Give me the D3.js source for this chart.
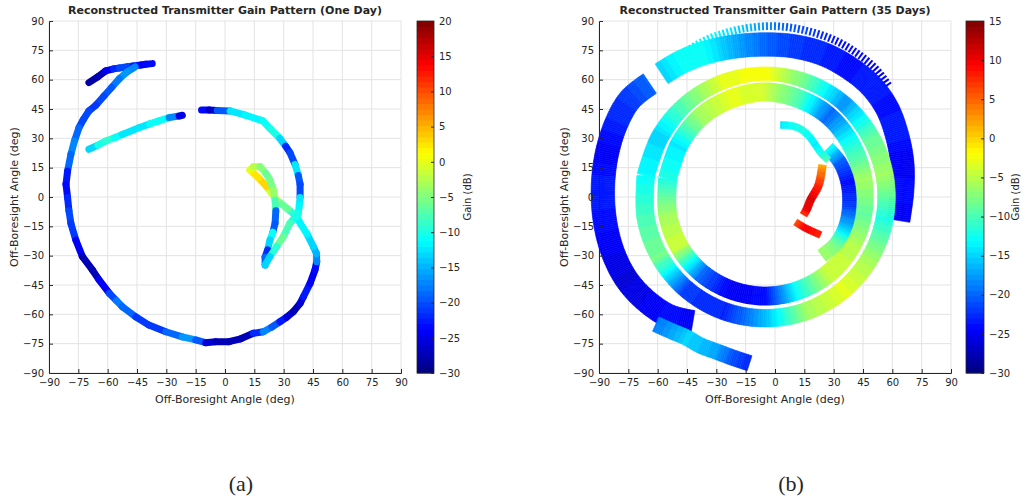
<!DOCTYPE html>
<html>
<head>
<meta charset="utf-8">
<script src="https://cdn.jsdelivr.net/npm/d3@7"></script>
<style>
  body { margin: 0; background: #fff; }
  svg { display: block; }
  text { font-family: "DejaVu Sans", sans-serif; fill: #262626; }
</style>
</head>
<body>
<svg id="chart" width="1027" height="502"></svg>
<script>
// ---- data ----
const angleTicks = [-90, -75, -60, -45, -30, -15, 0, 15, 30, 45, 60, 75, 90];
const titles = ['Reconstructed Transmitter Gain Pattern (One Day)', 'Reconstructed Transmitter Gain Pattern (35 Days)'];
const gainRanges = [[-30, 20], [-30, 15]];
const gainTicksA = [-30, -25, -20, -15, -10, -5, 0, 5, 10, 15, 20];
const gainTicksB = [-30, -25, -20, -15, -10, -5, 0, 5, 10, 15];
const subLabels = ['(a)', '(b)'];

// one day: satellite tracks [x deg, y deg, gain dB]
const trackTop = [[-69.6, 58.5, -28], [-65, 61.5, -28], [-61, 64.5, -26], [-57, 65.5, -22], [-54, 66, -21],
  [-50, 66.6, -20], [-47, 67, -21], [-43, 67.5, -24], [-40.5, 67.9, -25], [-37.2, 68.2, -22]];
const trackMain = [[-46, 66.5, -19], [-50, 64, -16], [-54, 60.5, -17], [-58, 56, -19], [-62, 51.5, -20],
  [-66, 47, -21], [-69.6, 44, -21], [-72.5, 39.5, -20], [-74.7, 35.4, -20], [-77, 28.6, -17],
  [-78.8, 21.8, -17], [-80.5, 13.3, -20], [-81.3, 6.5, -25], [-80.5, -0.3, -22], [-79.8, -7, -21],
  [-78.8, -13.5, -20], [-76.3, -22, -22], [-72.9, -30.5, -27], [-67.8, -37.3, -28], [-64.4, -42.4, -27],
  [-59.2, -49.2, -22], [-55.5, -53, -19], [-52.5, -56.1, -17], [-45.7, -61.2, -20], [-38.9, -65.5, -22],
  [-30.3, -68.9, -20], [-21.8, -71.5, -18], [-15, -73.1, -15], [-9.9, -74.5, -24], [-4.8, -74, -27],
  [2, -74, -28], [8, -72.5, -27], [14.5, -69.7, -27], [19.6, -68.9, -16], [24, -66.5, -18],
  [28.1, -63.8, -21], [31.5, -61.5, -24], [34.9, -58.7, -27], [38.4, -54.4, -28], [40.1, -51, -23],
  [43.5, -44.2, -22], [46, -37.3, -26], [46.9, -33.1, -20], [46.8, -29, -15], [45.2, -25.4, -14],
  [42, -19, -12], [38.4, -13.3, -12], [36.7, -10, -11], [32, -6, -8], [26.4, -1.5, -4],
  [21.3, 5.3, 2], [17, 10, 4], [12.8, 13.8, 1], [14.5, 15.5, -1], [17.9, 15.5, -3],
  [21, 12, -6], [23, 8.7, -7], [24.7, 3.6, -4], [25.6, -1.5, -3], [26, -7, -12],
  [25.6, -13.4, -25], [24.5, -18, -14], [23, -22, -8], [21.8, -27, -18], [20.5, -30.7, -25],
  [20.5, -34.8, -13]];
const trackArc = [[-12, 44.5, -20], [-8, 44.5, -27], [-4, 44.2, -26], [2.6, 44, -13], [10, 42, -12],
  [19.4, 38.9, -11], [23, 35, -10], [28, 30, -10], [31, 26, -16], [33.2, 22.7, -27], [35.8, 16.7, -13],
  [37.5, 11, -12], [38.4, 6.5, -27], [38.4, -0.3, -13], [38, -4, -12], [37.5, -8.3, -12],
  [33.2, -13.4, -8], [29.8, -20.3, -7], [26.4, -25.4, -6], [23, -30.5, -13], [20.5, -34.8, -13]];
const trackCyan = [[-69.6, 24.4, -16], [-65, 26.5, -11], [-61, 28.6, -9], [-56.5, 30.3, -10], [-52.5, 32, -12],
  [-44, 35.4, -13], [-38.5, 37.4, -12], [-33.8, 38.9, -10], [-28.6, 40.6, -11], [-23.5, 41.4, -24],
  [-21.8, 41.8, -26]];
const tracks = [trackTop, trackMain, trackArc, trackCyan];

// 35 days: swaths, centre line [x deg, y deg, gain dB]
const swathFringe = [[-50, 71, -15], [-38, 79, -13], [-25, 84, -14], [-10, 87, -17], [5, 87, -20],
  [20, 84, -22], [33, 79, -24], [44, 72, -24], [52, 65, -25], [58, 57, -25]];
const swathOuter = [[-58, 63, -15], [-48, 69, -13], [-35, 74, -13], [-20, 77, -17], [-5, 78, -20],
  [10, 77, -22], [25, 73, -23], [38, 66, -24], [49, 57, -23], [57, 46, -24], [62, 33, -23],
  [65, 18, -25], [65, 3, -24], [63, -12, -25]];
const swathLeftOuter = [[-64, 58, -20], [-74, 50, -22], [-81, 38, -23], [-86, 22, -25], [-88, 5, -23],
  [-87, -12, -24], [-83, -28, -25], [-76, -42, -26], [-66, -53, -25], [-54, -61, -24], [-42, -64, -25]];
const swathRingOut = [[-66.1, 10.8, -13], [-58.7, 31, -15], [-44.9, 47.5, -9], [-26.2, 58.3, -3],
  [-5, 62, -2], [16.2, 58.3, -9], [34.9, 47.5, -18], [48.7, 31, -9], [56.1, 10.8, -6], [56.1, -10.8, -12],
  [48.7, -31, -6], [34.9, -47.5, -3], [16.2, -58.3, -6], [-5, -62, -16], [-26.2, -58.3, -23],
  [-44.9, -47.5, -22], [-58.7, -31, -8], [-66.1, -10.8, -10], [-66.1, 10.8, -13]];
const swathRingIn = [[-55.2, 9.5, -12], [-49.2, 27, -14], [-37.8, 41.5, -6], [-22.4, 50.5, -3],
  [-5, 54, -4], [12.4, 50.5, -10], [27.8, 41.5, -20], [39.2, 27, -12], [45.2, 9.5, -6], [45.2, -8.9, -9],
  [39.2, -25.5, -5], [27.8, -39.1, -4], [12.4, -47.9, -12], [-5, -51, -24], [-22.4, -47.9, -25],
  [-37.8, -39.1, -20], [-49.2, -25.5, -4], [-55.2, -8.9, -6], [-55.2, 9.5, -12]];
const swathStrip = [[-61, -65, -19], [-52, -69, -17], [-45, -72, -15], [-38, -76, -16], [-30, -79, -17],
  [-22, -82, -21], [-13, -85, -23]];
const swathHook = [[2.8, 36.8, -14], [8, 36.5, -13], [13, 34.8, -12], [17.5, 31, -13], [20.7, 26.6, -14],
  [24, 22, -12], [27.4, 18.9, -10]];
const swathLens = [[27, 25, -12], [33, 18, -20], [37, 8, -24], [38, -4, -22], [36, -15, -16], [31, -24, -8],
  [24, -30, -6]];
const swathRed = [[24.3, 16.4, 2], [22.3, 6.1, 8], [18.2, -1.5, 11], [16.1, -6.6, 10], [14.6, -9.2, 7]];
const swathRedLow = [[10.5, -12.8, 6], [15.6, -15.9, 10], [23.3, -19.4, 8]];
const swaths = [
  { pts: swathFringe, w: 4, rim: false, comb: true },
  { pts: swathOuter, w: 12, rim: false },
  { pts: swathLeftOuter, w: 12, rim: false },
  { pts: swathRingOut, w: 9, rim: false },
  { pts: swathRingIn, w: 10, rim: true },
  { pts: swathStrip, w: 8, rim: false },
  { pts: swathLens, w: 7, rim: false },
  { pts: swathHook, w: 3.5, rim: false },
  { pts: swathRed, w: 4, rim: false },
  { pts: swathRedLow, w: 3.5, rim: false }
];

// ---- helpers ----
// MATLAB jet, 64 levels
function jet(v, lo, hi) {
  let t = (v - lo) / (hi - lo);
  let i = Math.max(0, Math.min(63, Math.floor(t * 64)));
  t = (i + 0.5) / 64;
  const c = x => Math.round(255 * Math.max(0, Math.min(1, x)));
  return `rgb(${c(1.5 - Math.abs(4 * t - 3))},${c(1.5 - Math.abs(4 * t - 2))},${c(1.5 - Math.abs(4 * t - 1))})`;
}

const svg = d3.select('#chart');
const panels = [
  { left: 49, top: 21, size: 352, cbX: 417, cbW: 17, labelX: 471 },
  { left: 599, top: 21, size: 352, cbX: 966, cbW: 18, labelX: 1019 }
];

panels.forEach((p, k) => {
  const x = d3.scaleLinear().domain([-90, 90]).range([p.left, p.left + p.size]);
  const y = d3.scaleLinear().domain([-90, 90]).range([p.top + p.size, p.top]);
  const [lo, hi] = gainRanges[k];
  const g = svg.append('g');

  // grid
  g.append('g').selectAll('line.gx').data(angleTicks).enter().append('line')
    .attr('x1', d => x(d)).attr('x2', d => x(d)).attr('y1', y(-90)).attr('y2', y(90))
    .attr('stroke', '#e3e3e3').attr('stroke-width', 1);
  g.append('g').selectAll('line.gy').data(angleTicks).enter().append('line')
    .attr('y1', d => y(d)).attr('y2', d => y(d)).attr('x1', x(-90)).attr('x2', x(90))
    .attr('stroke', '#e3e3e3').attr('stroke-width', 1);

  const plot = g.append('g');
  if (k === 0) {
    // tracks as thick coloured segments
    tracks.forEach(tr => {
      for (let i = 0; i < tr.length - 1; i++) {
        plot.append('line')
          .attr('x1', x(tr[i][0])).attr('y1', y(tr[i][1]))
          .attr('x2', x(tr[i + 1][0])).attr('y2', y(tr[i + 1][1]))
          .attr('stroke', jet((tr[i][2] + tr[i + 1][2]) / 2, lo, hi))
          .attr('stroke-width', 7).attr('stroke-linecap', 'round');
      }
    });
  } else {
    const line = d3.line().curve(d3.curveCatmullRom);
    const rims = [];
    swaths.forEach(s => {
      const pts = s.pts.map(d => [x(d[0]), y(d[1])]);
      const half = s.w * (x(1) - x(0)) / 2;
      // smooth centre line, sampled every 2px
      const guide = plot.append('path').attr('d', line(pts)).attr('fill', 'none');
      const node = guide.node(), len = node.getTotalLength();
      const n = Math.max(2, Math.ceil(len / 2));
      const smp = d3.range(n + 1).map(i => { const q = node.getPointAtLength(len * i / n); return [q.x, q.y]; });
      guide.remove();
      const nrm = smp.map((q, i) => {
        const a = smp[Math.max(0, i - 1)], b = smp[Math.min(n, i + 1)];
        const dx = b[0] - a[0], dy = b[1] - a[1], L = Math.hypot(dx, dy) || 1;
        return [-dy / L, dx / L];
      });
      // where each data point sits along the samples
      let from = 0;
      const idx = pts.map((d, j) => {
        if (j === 0) return 0;
        if (j === pts.length - 1) return n;
        let best = from, bd = Infinity;
        for (let i = from; i <= n; i++) {
          const dd = (smp[i][0] - d[0]) ** 2 + (smp[i][1] - d[1]) ** 2;
          if (dd < bd) { bd = dd; best = i; }
        }
        from = best;
        return best;
      });
      const gainAt = i => {
        let j = 0;
        while (j < idx.length - 2 && idx[j + 1] <= i) j++;
        const t = idx[j + 1] > idx[j] ? (i - idx[j]) / (idx[j + 1] - idx[j]) : 0;
        return s.pts[j][2] + (s.pts[j + 1][2] - s.pts[j][2]) * Math.max(0, Math.min(1, t));
      };
      for (let i = 0; i < n; i++) {
        if (s.comb && i % 2) continue;
        const a = smp[i], b = smp[i + 1], na = nrm[i], nb = nrm[i + 1];
        const poly = [
          [a[0] + na[0] * half, a[1] + na[1] * half],
          [b[0] + nb[0] * half, b[1] + nb[1] * half],
          [b[0] - nb[0] * half, b[1] - nb[1] * half],
          [a[0] - na[0] * half, a[1] - na[1] * half]
        ];
        const col = jet(gainAt(i + 0.5), lo, hi);
        plot.append('path').attr('d', 'M' + poly.join('L') + 'Z')
          .attr('fill', col).attr('stroke', col).attr('stroke-width', s.comb ? 0 : 0.6);
      }
      if (s.rim) {
        // white seam on the outer edge of the swath
        const cx = d3.mean(smp, q => q[0]), cyy = d3.mean(smp, q => q[1]);
        rims.push(smp.map((q, i) => {
          const o1 = [q[0] + nrm[i][0] * half, q[1] + nrm[i][1] * half];
          const o2 = [q[0] - nrm[i][0] * half, q[1] - nrm[i][1] * half];
          return Math.hypot(o1[0] - cx, o1[1] - cyy) > Math.hypot(o2[0] - cx, o2[1] - cyy) ? o1 : o2;
        }));
      }
    });
    rims.forEach(r => plot.append('path').attr('d', d3.line()(r))
      .attr('fill', 'none').attr('stroke', '#fff').attr('stroke-width', 1.8));
  }

  // axes
  const ax = g.append('g').attr('transform', `translate(0,${y(-90)})`)
    .call(d3.axisBottom(x).tickValues(angleTicks).tickSize(-4).tickPadding(6).tickFormat(d3.format('d')));
  const ay = g.append('g').attr('transform', `translate(${x(-90)},0)`)
    .call(d3.axisLeft(y).tickValues(angleTicks).tickSize(-4).tickPadding(5).tickFormat(d3.format('d')));
  [ax, ay].forEach(a => {
    a.select('.domain').attr('stroke', '#262626');
    a.selectAll('.tick line').attr('stroke', '#262626');
    a.selectAll('text').style('font-size', '10px').attr('fill', '#262626').style('font-family', '"DejaVu Sans", sans-serif');
  });
  ay.selectAll('.tick').filter(d => d === -90 || d === 90).select('line').remove();

  // labels
  g.append('text').attr('x', x(0)).attr('y', 14).attr('text-anchor', 'middle')
    .style('font-size', '11px').style('font-weight', 'bold').attr('fill', '#000').text(titles[k]);
  g.append('text').attr('x', x(0)).attr('y', 403).attr('text-anchor', 'middle')
    .style('font-size', '11px').text('Off-Boresight Angle (deg)');
  g.append('text').attr('transform', `translate(${p.left - 31},${y(0)}) rotate(-90)`)
    .attr('text-anchor', 'middle').style('font-size', '11px').text('Off-Boresight Angle (deg)');

  // colour bar
  const cy = d3.scaleLinear().domain([lo, hi]).range([p.top + p.size, p.top]);
  const steps = d3.range(64);
  g.append('g').selectAll('rect').data(steps).enter().append('rect')
    .attr('x', p.cbX).attr('width', p.cbW)
    .attr('y', i => cy(lo + (i + 1) * (hi - lo) / 64))
    .attr('height', p.size / 64 + 0.5)
    .attr('fill', i => jet(lo + (i + 0.5) * (hi - lo) / 64, lo, hi));
  g.append('rect').attr('x', p.cbX).attr('y', p.top).attr('width', p.cbW).attr('height', p.size)
    .attr('fill', 'none').attr('stroke', '#262626').attr('stroke-width', 0.8);
  const cax = g.append('g').attr('transform', `translate(${p.cbX + p.cbW},0)`)
    .call(d3.axisRight(cy).tickValues(k === 0 ? gainTicksA : gainTicksB).tickSize(-3).tickPadding(5).tickFormat(d3.format('d')));
  cax.select('.domain').remove();
  cax.selectAll('.tick line').attr('stroke', '#262626');
  cax.selectAll('text').style('font-size', '10px').attr('fill', '#262626').style('font-family', '"DejaVu Sans", sans-serif');
  g.append('text').attr('transform', `translate(${p.labelX},${y(0)}) rotate(-90)`)
    .attr('text-anchor', 'middle').style('font-size', '10px').text('Gain (dB)');

  // sub-figure label
  svg.append('text').attr('x', x(0) + 16).attr('y', 491).attr('text-anchor', 'middle')
    .style('font-family', '"Liberation Serif", "DejaVu Serif", serif').style('font-size', '22px')
    .attr('fill', '#000').text(subLabels[k]);
});
</script>
</body>
</html>
